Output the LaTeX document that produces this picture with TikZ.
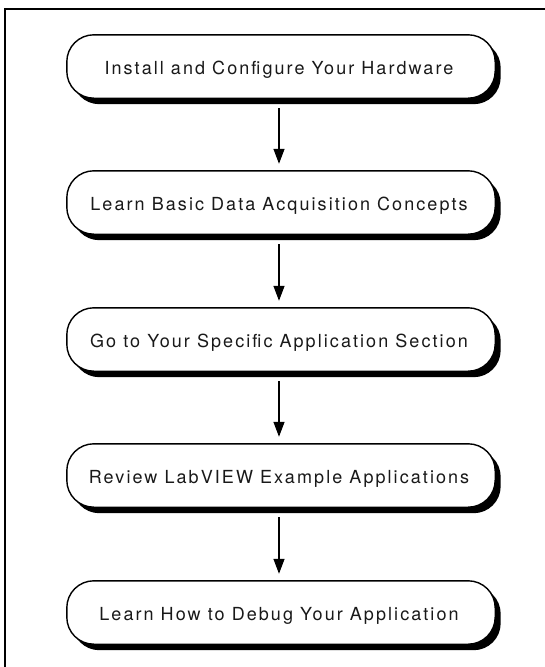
\documentclass[tikz,border=0pt]{standalone}
\usepackage{fontspec}
\setmainfont{TeX Gyre Heros}[LetterSpace=11.5]
\usetikzlibrary{arrows.meta}
\tikzset{
  stepbox/.style={minimum width=428pt, minimum height=63pt, inner sep=0pt,
    font=\fontsize{18pt}{20pt}\selectfont, text=black!90},
  arr/.style={line width=1.3pt, -{Triangle[width=11pt,length=15pt]}, shorten <=10pt, shorten >=7pt},
  boxline/.style={line width=1.4pt, draw=black, fill=white, rounded corners=27pt},
  boxshadow/.style={fill=black, rounded corners=27pt},
}
\begin{document}
\begin{tikzpicture}[x=1pt,y=1pt]
\useasboundingbox (0,0) rectangle (545,-667);
\draw[line width=2.2pt] (5,-668) -- (5,-9) -- (546,-9);
\node[stepbox] (b1) at (281,-66.5) {};
\node[stepbox] (b2) at (281,-202.5) {};
\node[stepbox] (b3) at (281,-339.5) {};
\node[stepbox] (b4) at (281,-475.5) {};
\node[stepbox] (b5) at (281,-612.5) {};
\foreach \b in {b1,b2,b3,b4,b5}{
  \path[boxshadow] ([shift={(5.5pt,-6pt)}]\b.north west) rectangle ([shift={(5.5pt,-6pt)}]\b.south east);
  \path[boxline] (\b.north west) rectangle (\b.south east);
}
\node[stepbox] at ([xshift=-2pt,yshift=-3pt]b1.center) {Install and Configure Your Hardware};
\node[stepbox] at ([xshift=-2pt,yshift=-3pt]b2.center) {Learn Basic Data Acquisition Concepts};
\node[stepbox] at ([xshift=-2pt,yshift=-3pt]b3.center) {Go to Your Specific Application Section};
\node[stepbox] at ([xshift=-2pt,yshift=-3pt]b4.center) {Review LabVIEW Example Applications};
\node[stepbox] at ([xshift=-2pt,yshift=-3pt]b5.center) {Learn How to Debug Your Application};
\draw[arr] ([xshift=-2pt]b1.south) -- ([xshift=-2pt]b2.north);
\draw[arr] ([xshift=-2pt]b2.south) -- ([xshift=-2pt]b3.north);
\draw[arr] ([xshift=-2pt]b3.south) -- ([xshift=-2pt]b4.north);
\draw[arr] ([xshift=-2pt]b4.south) -- ([xshift=-2pt]b5.north);
\end{tikzpicture}
\end{document}
